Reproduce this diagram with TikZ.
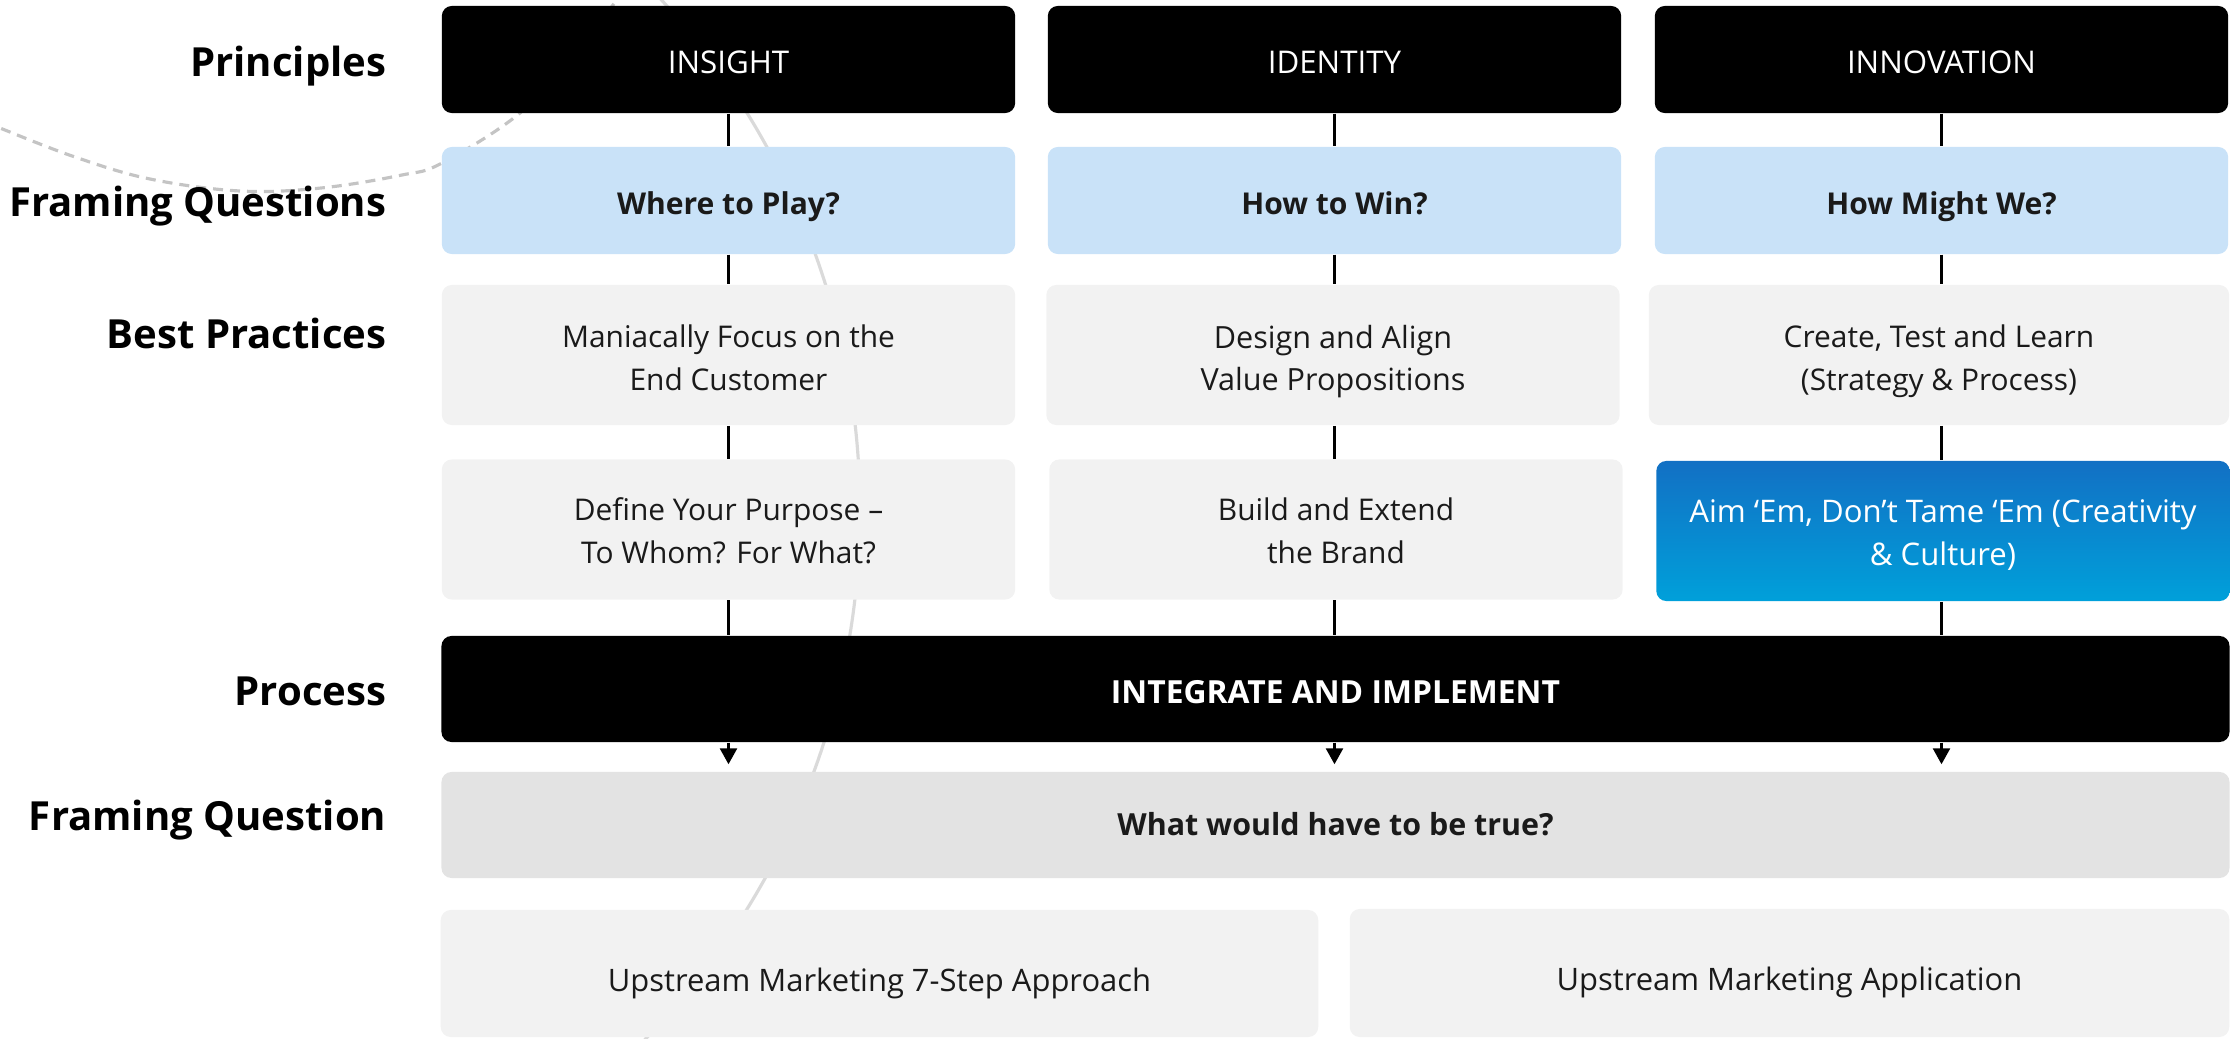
\documentclass[tikz,border=0pt]{standalone}
\usepackage{fontspec}
\setmainfont{Open Sans}
\usetikzlibrary{arrows.meta}
\definecolor{qblue}{HTML}{C9E2F8}
\definecolor{cardgrey}{HTML}{F2F2F2}
\definecolor{qgrey}{HTML}{E3E3E3}
\definecolor{arcgrey}{HTML}{DADADA}
\definecolor{dashgrey}{HTML}{C4C4C4}
\definecolor{bluetop}{HTML}{1270C4}
\definecolor{bluebot}{HTML}{00A0DA}
\definecolor{ink}{HTML}{1A1A1A}
% struts that give the two-line cards a fixed first-line height and last-line depth
\newcommand{\firstline}{\rule{0pt}{1.2em}}
\newcommand{\firstlinelow}{\rule{0pt}{1.06em}}
\newcommand{\lastline}{\rule[-0.25em]{0pt}{0pt}}
\begin{document}
\begin{tikzpicture}[x=0.01cm,y=-0.01cm,
  card/.style={rounded corners=0.1cm, inner sep=0pt, align=center,
    minimum width=5.73cm, text=ink, font=\fontsize{8.5}{12.2}\selectfont},
  oneline/.style={text height=0.81em, text depth=0em},
  blackcard/.style={card, oneline, fill=black, text=white, minimum height=1.07cm,
    font=\fontsize{8.9}{12.2}\selectfont},
  qcard/.style={card, oneline, fill=qblue, minimum height=1.07cm,
    font=\bfseries\fontsize{8.55}{12.2}\selectfont},
  practice/.style={card, fill=cardgrey, minimum height=1.40cm},
  bluecard/.style={card, top color=bluetop, bottom color=bluebot, text=white,
    minimum height=1.40cm, font=\fontsize{8.85}{12.2}\selectfont},
  wide/.style={card, fill=cardgrey, text height=1.01em, text depth=0em,
    font=\fontsize{8.8}{12.2}\selectfont},
  rowlabel/.style={anchor=east, inner sep=0pt, text=black, text height=0.73em, text depth=0em,
    font=\bfseries\fontsize{11.4}{14}\selectfont},
  link/.style={line width=0.75pt, black},
  flow/.style={link, -{Triangle[width=0.17cm,length=0.16cm]}, shorten >=0.07cm}
]
\useasboundingbox (0,0) rectangle (2238,1039);

% background arcs
\begin{scope}
  \clip (0,0) rectangle (2238,1039);
  \draw[arcgrey, line width=0.9pt] (103,511) circle[radius=757];
  \draw[dashgrey, line width=0.9pt, dash pattern=on 0.1cm off 0.07cm]
    plot[smooth, tension=0.6] coordinates {(-30,115) (0,128) (75,157) (150,179)
      (240,191) (321,188) (402,175) (442,163) (520,113) (575,52) (613,5) (630,-20)};
\end{scope}

% row labels
\node[rowlabel] (lp) at (387,64) {Principles};
\node[rowlabel] (lf) at (387,204) {Framing Questions};
\node[rowlabel] (lb) at (387,336) {Best Practices};
\node[rowlabel] (lr) at (387,693) {Process};
\node[rowlabel] (lq) at (387,818) {Framing Question};

% principles
\node[blackcard] (pr1) at (728.5,59.5) {INSIGHT};
\node[blackcard] (pr2) at (1334.5,59.5) {IDENTITY};
\node[blackcard] (pr3) at (1941.5,59.5) {INNOVATION};

% framing questions
\node[qcard] (fq1) at (728.5,200.5) {Where to Play?};
\node[qcard] (fq2) at (1334.5,200.5) {How to Win?};
\node[qcard] (fq3) at (1941.5,200.5) {How Might We?};

% best practices
\node[practice] (bp1) at (728.5,355) {\firstline Maniacally Focus on the\\End Customer\lastline};
\node[practice, font=\fontsize{8.7}{12.2}\selectfont] (bp2) at (1333,355) {\firstline Design and Align\\Value Propositions\lastline};
\node[practice, minimum width=5.80cm] (bp3) at (1939,355) {\firstline Create, Test and Learn\\(Strategy \& Process)\lastline};
\node[practice] (bq1) at (728.5,529.5) {\firstlinelow Define Your Purpose –\\To Whom? For What?\lastline};
\node[practice] (bq2) at (1336,529.5) {\firstlinelow Build and Extend\\the Brand\lastline};
\node[bluecard] (bq3) at (1943,531) {\firstlinelow Aim ‘Em, Don’t Tame ‘Em (Creativity\\\& Culture)\lastline};

% process
\node[blackcard, minimum width=17.87cm, minimum height=1.06cm,
  font=\bfseries\fontsize{9.05}{12.2}\selectfont] (proc) at (1335.5,689) {INTEGRATE AND IMPLEMENT};
\node[card, fill=qgrey, minimum width=17.87cm, minimum height=1.06cm,
  text height=0.61em, text depth=0em,
  font=\bfseries\fontsize{8.65}{12.2}\selectfont] (wq) at (1335.5,825) {What would have to be true?};

% applications
\node[wide, minimum width=8.77cm, minimum height=1.27cm] (up1) at (879.5,973.5) {Upstream Marketing 7-Step Approach};
\node[wide, minimum width=8.79cm, minimum height=1.28cm] (up2) at (1789.5,973) {Upstream Marketing Application};

% connectors
\draw[link] (pr1.south) -- (fq1.north);
\draw[link] (pr2.south) -- (fq2.north);
\draw[link] (pr3.south) -- (fq3.north);
\draw[link] (fq1.south) -- (fq1.south |- bp1.north);
\draw[link] (fq2.south) -- (fq2.south |- bp2.north);
\draw[link] (fq3.south) -- (fq3.south |- bp3.north);
\draw[link] (fq1.south |- bp1.south) -- (fq1.south |- bq1.north);
\draw[link] (fq2.south |- bp2.south) -- (fq2.south |- bq2.north);
\draw[link] (fq3.south |- bp3.south) -- (fq3.south |- bq3.north);
\draw[link] (fq1.south |- bq1.south) -- (fq1.south |- proc.north);
\draw[link] (fq2.south |- bq2.south) -- (fq2.south |- proc.north);
\draw[link] (fq3.south |- bq3.south) -- (fq3.south |- proc.north);
\draw[flow] (fq1.south |- proc.south) -- (fq1.south |- wq.north);
\draw[flow] (fq2.south |- proc.south) -- (fq2.south |- wq.north);
\draw[flow] (fq3.south |- proc.south) -- (fq3.south |- wq.north);
\end{tikzpicture}
\end{document}
